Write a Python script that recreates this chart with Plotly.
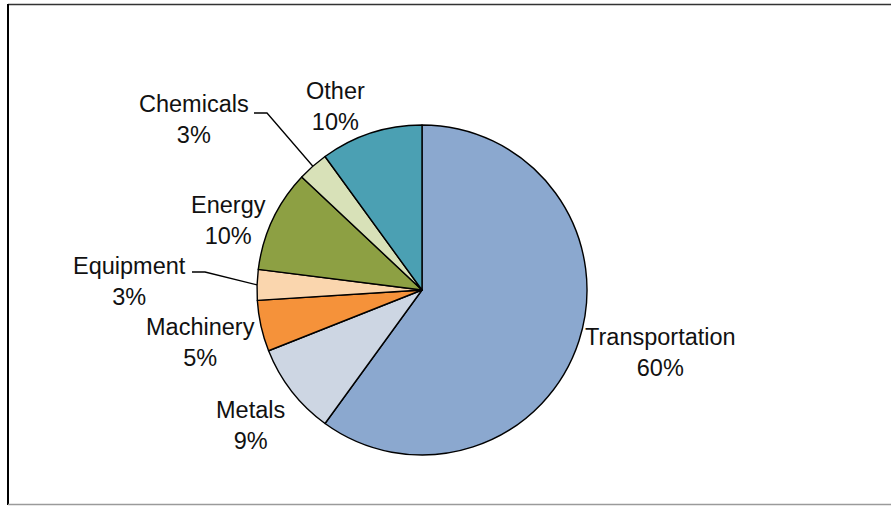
import math
import plotly.graph_objects as go

W, H = 891, 506

# ---- data ----
categories = ["Transportation", "Metals", "Machinery", "Equipment", "Energy", "Chemicals", "Other"]
percentages = [60, 9, 5, 3, 10, 3, 10]
colors = ["#8BA8CF", "#CDD6E3", "#F5923A", "#FAD6AE", "#8DA043", "#D8E1B8", "#4BA0B3"]

# ---- layout (pixels) ----
cx, cy, R = 422, 290, 165
label_pos = {
    "Transportation": (660, 352),
    "Metals": (250, 425),
    "Machinery": (200, 342),
    "Equipment": (129, 281),
    "Energy": (228, 221),
    "Chemicals": (194, 120),
    "Other": (335, 106),
}
# leader-line starting points (end of label text) for small slices
leaders = {
    "Chemicals": ((254, 113), (267, 113)),
    "Equipment": ((192, 272), (205, 272)),
}


def px(x):
    return x / W


def py(y):
    return 1 - y / H


fig = go.Figure()
fig.add_trace(go.Pie(
    labels=categories,
    values=percentages,
    sort=False,
    direction="clockwise",
    rotation=0,
    marker=dict(colors=colors, line=dict(color="black", width=1.4)),
    textinfo="none",
    hoverinfo="label+percent",
    showlegend=False,
    domain=dict(x=[px(cx - R), px(cx + R)], y=[py(cy + R), py(cy - R)]),
))

annotations = []
total = sum(percentages)
for name, val in zip(categories, percentages):
    lx, ly = label_pos[name]
    annotations.append(dict(
        x=px(lx), y=py(ly), xref="paper", yref="paper",
        text=f"{name}<br>{round(100 * val / total)}%",
        showarrow=False, xanchor="center", yanchor="middle",
        font=dict(family="Arial, Liberation Sans", size=23.5, color="#111111"),
    ))

shapes = []
# leader lines computed from slice mid-angles
cum = 0
for name, val in zip(categories, percentages):
    mid = (cum + val / 2) / total * 360
    cum += val
    if name in leaders:
        (x0, y0), (x1, y1) = leaders[name]
        ex = cx + R * math.sin(math.radians(mid))
        ey = cy - R * math.cos(math.radians(mid))
        shapes.append(dict(type="path", xref="paper", yref="paper",
                           path=f"M {px(x0)},{py(y0)} L {px(x1)},{py(y1)} L {px(ex)},{py(ey)}",
                           line=dict(color="black", width=1.3)))

# frame lines
shapes.append(dict(type="line", xref="paper", yref="paper", x0=px(8), x1=1.02, y0=py(4.5), y1=py(4.5),
                   line=dict(color="#333333", width=1.5)))
shapes.append(dict(type="line", xref="paper", yref="paper", x0=px(8), x1=px(8), y0=py(4), y1=py(505),
                   line=dict(color="black", width=2)))
shapes.append(dict(type="line", xref="paper", yref="paper", x0=px(8), x1=1.02, y0=py(504.5), y1=py(504.5),
                   line=dict(color="#9A9A9A", width=1.5)))

fig.update_layout(
    width=W, height=H,
    margin=dict(l=0, r=0, t=0, b=0),
    paper_bgcolor="white", plot_bgcolor="white",
    annotations=annotations, shapes=shapes,
)

fig.write_html("out.html")
